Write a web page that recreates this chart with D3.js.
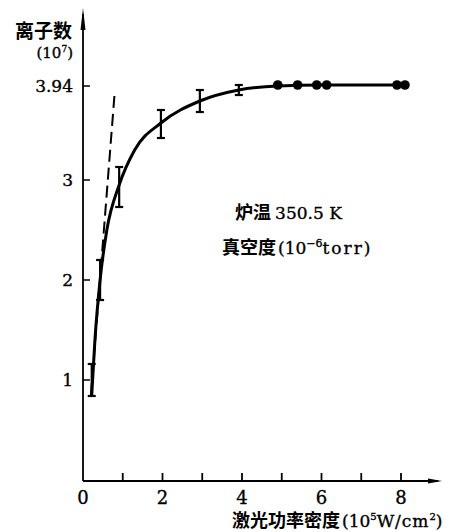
<!DOCTYPE html>
<html lang="zh">
<head>
  <meta charset="UTF-8">
  <title>离子数 vs 激光功率密度</title>
  <script src="https://d3js.org/d3.v7.min.js"></script>
  <style>
    body { margin: 0; background: #fff; }
    svg { display: block; }
    .num { font-family: 'DejaVu Serif', 'Liberation Serif', serif; stroke: #000; stroke-width: 0.35; }
    .cjk { font-family: 'Noto Sans CJK SC', sans-serif; font-weight: 700; }
  </style>
</head>
<body>
  <svg width="456" height="532"></svg>
  <script>
    // measured points with error bars
    const errX = [0.22, 0.43, 0.91, 1.96, 2.94, 3.92];
    const errY = [1.0, 2.0, 2.93, 3.56, 3.79, 3.90];
    const errD = [0.16, 0.2, 0.2, 0.14, 0.11, 0.05];

    // filled dots on the plateau
    const dotX = [4.9, 5.4, 5.88, 6.13, 7.9, 8.1];
    const dotY = [3.95, 3.95, 3.95, 3.95, 3.95, 3.95];

    // fitted curve
    const curveX = [0.22, 0.3, 0.43, 0.6, 0.91, 1.3, 1.96, 2.94, 3.92, 4.9, 6, 7, 8.2];
    const curveY = [0.85, 1.4, 2.0, 2.5, 2.95, 3.3, 3.57, 3.79, 3.9, 3.94, 3.95, 3.95, 3.95];

    // initial slope (dashed)
    const slopeX = [0.2, 0.79];
    const slopeY = [0.85, 3.84];

    const xTicks = [1, 2, 3, 4, 5, 6, 7, 8];
    const xLabels = [0, 2, 4, 6, 8];
    const yTicks = [1, 2, 3, 3.94];
    const yLabels = ["1", "2", "3", "3.94"];

    const svg = d3.select("svg");
    const x = d3.scaleLinear().domain([0, 8]).range([83, 401]);
    const y = d3.scaleLinear().domain([0, 4]).range([480, 80]);

    // axes
    svg.append("line")
      .attr("x1", x(0)).attr("y1", y(0) + 1)
      .attr("x2", 438).attr("y2", y(0) + 1)
      .attr("stroke", "#000").attr("stroke-width", 1.8);
    svg.append("path")
      .attr("d", `M442,${y(0) + 1} L428,${y(0) - 1.5} L428,${y(0) + 3.5} Z`)
      .attr("fill", "#000");

    svg.append("line")
      .attr("x1", x(0)).attr("y1", y(0) + 1)
      .attr("x2", x(0)).attr("y2", 14)
      .attr("stroke", "#000").attr("stroke-width", 1.8);
    svg.append("path")
      .attr("d", `M${x(0)},8 L${x(0) - 2.5},30 L${x(0) + 2.5},30 Z`)
      .attr("fill", "#000");

    // x ticks
    svg.selectAll(".xt").data(xTicks).enter().append("line")
      .attr("x1", d => x(d)).attr("x2", d => x(d))
      .attr("y1", y(0)).attr("y2", y(0) - 7)
      .attr("stroke", "#000").attr("stroke-width", 1.8);
    svg.selectAll(".xl").data(xLabels).enter().append("text")
      .attr("class", "num")
      .attr("x", d => x(d)).attr("y", 504)
      .attr("text-anchor", "middle")
      .attr("font-size", 18)
      .text(d => d);

    // y ticks
    svg.selectAll(".yt").data(yTicks).enter().append("line")
      .attr("x1", x(0)).attr("x2", x(0) + 7)
      .attr("y1", d => y(d)).attr("y2", d => y(d))
      .attr("stroke", "#000").attr("stroke-width", 1.5);
    svg.selectAll(".yl").data(yTicks).enter().append("text")
      .attr("class", "num")
      .attr("x", 73).attr("y", d => y(d) + 6)
      .attr("text-anchor", "end")
      .attr("font-size", 17)
      .text((d, i) => yLabels[i]);

    // axis titles
    svg.append("text").attr("class", "cjk")
      .attr("x", 72).attr("y", 38).attr("text-anchor", "end")
      .attr("font-size", 19).text("离子数");
    const unit = svg.append("text").attr("class", "num")
      .attr("x", 73).attr("y", 58).attr("text-anchor", "end")
      .attr("font-size", 15);
    unit.append("tspan").text("(10");
    unit.append("tspan").attr("font-size", 9).attr("dy", -6).text("7");
    unit.append("tspan").attr("dy", 6).text(")");

    const xt = svg.append("text").attr("x", 232).attr("y", 527).attr("font-size", 18);
    xt.append("tspan").attr("class", "cjk").text("激光功率密度");
    xt.append("tspan").attr("class", "num").attr("font-size", 17).attr("dx", 2).text("(10");
    xt.append("tspan").attr("class", "num").attr("font-size", 10).attr("dy", -7).text("5");
    xt.append("tspan").attr("class", "num").attr("font-size", 17).attr("dy", 7)
      .attr("letter-spacing", 1).text("W/cm");
    xt.append("tspan").attr("class", "num").attr("font-size", 10).attr("dy", -7).text("2");
    xt.append("tspan").attr("class", "num").attr("font-size", 17).attr("dy", 7).text(")");

    // annotation
    const t1 = svg.append("text").attr("x", 235).attr("y", 219).attr("font-size", 18);
    t1.append("tspan").attr("class", "cjk").text("炉温 ");
    t1.append("tspan").attr("class", "num").attr("font-size", 17).text("350.5 K");
    const t2 = svg.append("text").attr("x", 222).attr("y", 254).attr("font-size", 18);
    t2.append("tspan").attr("class", "cjk").text("真空度");
    t2.append("tspan").attr("class", "num").attr("font-size", 17).attr("dx", 2).text("(10");
    t2.append("tspan").attr("class", "num").attr("font-size", 11).attr("dy", -7).text("−6");
    t2.append("tspan").attr("class", "num").attr("font-size", 17).attr("dy", 7)
      .attr("letter-spacing", 2).text("torr)");

    // dashed initial slope
    const line = d3.line().x(d => x(d[0])).y(d => y(d[1]));
    svg.append("path")
      .attr("d", line(d3.zip(slopeX, slopeY)))
      .attr("fill", "none").attr("stroke", "#000")
      .attr("stroke-width", 2).attr("stroke-dasharray", "12,6");

    // fitted curve
    svg.append("path")
      .attr("d", line.curve(d3.curveMonotoneX)(d3.zip(curveX, curveY)))
      .attr("fill", "none").attr("stroke", "#000").attr("stroke-width", 3);

    // error bars
    const eb = svg.selectAll(".eb").data(d3.range(errX.length)).enter().append("g");
    eb.append("line")
      .attr("x1", i => x(errX[i])).attr("x2", i => x(errX[i]))
      .attr("y1", i => y(errY[i] - errD[i])).attr("y2", i => y(errY[i] + errD[i]))
      .attr("stroke", "#000").attr("stroke-width", 2.2);
    eb.selectAll("line.cap").data(i => [[i, -1], [i, 1]]).enter().append("line")
      .attr("class", "cap")
      .attr("x1", d => x(errX[d[0]]) - 4).attr("x2", d => x(errX[d[0]]) + 4)
      .attr("y1", d => y(errY[d[0]] + d[1] * errD[d[0]]))
      .attr("y2", d => y(errY[d[0]] + d[1] * errD[d[0]]))
      .attr("stroke", "#000").attr("stroke-width", 2.2);

    // plateau dots
    svg.selectAll(".dot").data(d3.range(dotX.length)).enter().append("circle")
      .attr("cx", i => x(dotX[i])).attr("cy", i => y(dotY[i]))
      .attr("r", 4.8).attr("fill", "#000");
  </script>
</body>
</html>
